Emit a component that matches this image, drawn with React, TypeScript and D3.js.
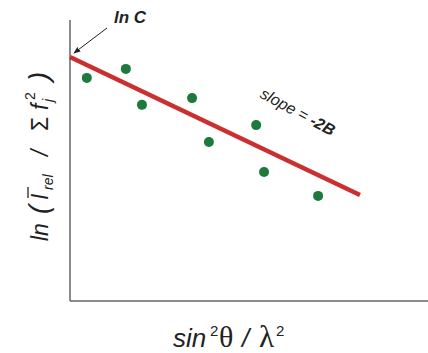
import React from "react";
import * as d3 from "d3";

const pointsX = [0.047, 0.156, 0.201, 0.341, 0.388, 0.52, 0.542, 0.693];
const pointsY = [0.794, 0.826, 0.698, 0.722, 0.566, 0.626, 0.459, 0.374];
const fitX = [0, 0.81];
const fitY = [0.868, 0.377];

const W = 428;
const H = 353;

export default function App() {
  const x = d3.scaleLinear().domain([0, 1]).range([70, 428]);
  const y = d3.scaleLinear().domain([0, 1]).range([301, 20]);
  const line = d3
    .line<number>()
    .x((d) => x(fitX[d]))
    .y((d) => y(fitY[d]));
  const ang = (Math.atan2(y(fitY[1]) - y(fitY[0]), x(fitX[1]) - x(fitX[0])) * 180) / Math.PI;
  const font = "Liberation Sans, Arial, sans-serif";
  const serif = "Liberation Serif, Times New Roman, serif";
  const ink = "#222";
  return (
    <svg width={W} height={H} style={{ position: "absolute", left: 0, top: 0, background: "#fff" }} fontFamily={font}>
      <defs>
        <marker id="ah" viewBox="0 0 10 10" refX="9" refY="5" markerWidth="7" markerHeight="7" orient="auto">
          <path d="M0,1 L10,5 L0,9 z" fill={ink} />
        </marker>
      </defs>
      {/* axes */}
      <line x1={x(0)} y1={y(1)} x2={x(0)} y2={y(0)} stroke="#666" strokeWidth={1.5} />
      <line x1={x(0)} y1={y(0)} x2={x(1)} y2={y(0)} stroke="#666" strokeWidth={1.5} />
      {/* fit line */}
      <path d={line([0, 1]) || ""} stroke="#cc2f2f" strokeWidth={4.5} fill="none" />
      {/* points */}
      {pointsX.map((px, i) => (
        <circle key={i} cx={x(px)} cy={y(pointsY[i])} r={5} fill="#1b7a3c" />
      ))}
      {/* ln C annotation */}
      <line x1={107} y1={28} x2={74} y2={53} stroke={ink} strokeWidth={1} markerEnd="url(#ah)" />
      <text x={114} y={23} fontSize={17} fontWeight="bold" fontStyle="italic" fill={ink}>ln C</text>
      {/* slope label */}
      <text transform={`translate(259,97) rotate(${ang + 3})`} fontSize={16} fontStyle="italic" fill={ink}>
        slope = <tspan fontWeight="bold">-2B</tspan>
      </text>
      {/* y label */}
      <g transform="translate(48,241) rotate(-90)" fill={ink} fontSize={23}>
        <text x={0} fontStyle="italic">ln</text>
        <text x={27} fontStyle="italic" fontSize={27}>(</text>
        <text x={41} fontStyle="italic">I</text>
        <line x1={43} x2={54} y1={-20} y2={-20} stroke={ink} strokeWidth={1.3} />
        <text x={51} y={5} fontStyle="italic" fontSize={14}>rel</text>
        <text x={85} fontStyle="italic">/</text>
        <text x={110}>Σ</text>
        <text x={131} fontStyle="italic">f</text>
        <text x={139} y={5} fontStyle="italic" fontSize={14}>j</text>
        <text x={141} y={-13} fontSize={14}>2</text>
        <text x={160} fontStyle="italic" fontSize={27}>)</text>
      </g>
      {/* x label */}
      <g fill={ink} fontSize={26}>
        <text x={173} y={347} fontStyle="italic">sin</text>
        <text x={210} y={336} fontSize={15}>2</text>
        <text x={219} y={347} fontSize={30} fontFamily={serif}>θ</text>
        <text x={242} y={347} fontStyle="italic">/</text>
        <text x={259} y={347} fontSize={31} fontFamily={serif}>λ</text>
        <text x={276} y={336} fontSize={15}>2</text>
      </g>
    </svg>
  );
}
